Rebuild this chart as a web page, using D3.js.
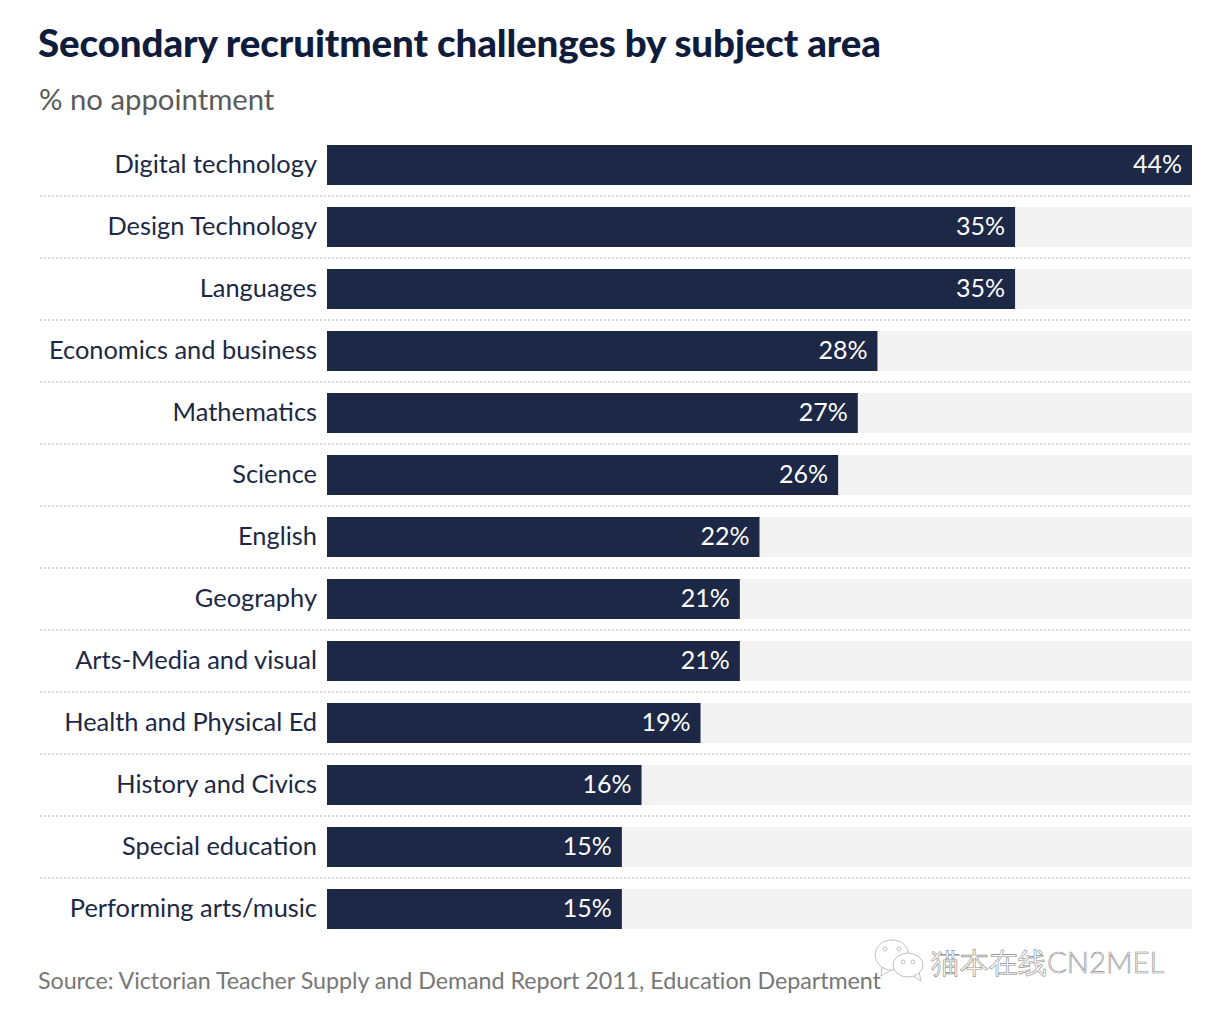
<!DOCTYPE html>
<html>
<head>
<meta charset="utf-8">
<script src="https://cdn.jsdelivr.net/npm/d3@7"></script>
<style>
  html, body { margin: 0; padding: 0; background: #fff; }
  svg { display: block; }
  text { font-family: Lato, "Noto Sans", sans-serif; }
</style>
</head>
<body>
<svg width="1206" height="1016"></svg>
<script>
const categories = ['Digital technology', 'Design Technology', 'Languages', 'Economics and business',
  'Mathematics', 'Science', 'English', 'Geography', 'Arts-Media and visual', 'Health and Physical Ed',
  'History and Civics', 'Special education', 'Performing arts/music'];
const values = [44, 35, 35, 28, 27, 26, 22, 21, 21, 19, 16, 15, 15];
const maxValue = 44;

const svg = d3.select('svg');

// x scale, bars start after the label column
const x = d3.scaleLinear().domain([0, maxValue]).range([327, 1192]);

// band scale, 40px bars on a 62px step
const y = d3.scaleBand().domain(categories).range([145, 929]).paddingInner(22 / 62).paddingOuter(0);

// title and subtitle
svg.append('text').attr('x', 38).attr('y', 57)
  .attr('font-size', 38.5).attr('font-weight', 900).attr('letter-spacing', -0.12).attr('fill', '#0f1c3c')
  .text('Secondary recruitment challenges by subject area');
svg.append('text').attr('x', 39).attr('y', 110)
  .attr('font-size', 29.3).attr('fill', '#5a5a5a')
  .text('% no appointment');

// grey track behind every bar
svg.selectAll('.track').data(categories).enter().append('rect')
  .attr('class', 'track')
  .attr('x', x(0))
  .attr('y', (d) => y(d))
  .attr('width', x(maxValue) - x(0))
  .attr('height', y.bandwidth())
  .attr('fill', '#f3f3f3');

// dotted separators, none under the last row
svg.selectAll('.sep').data(categories.slice(0, -1)).enter().append('line')
  .attr('class', 'sep')
  .attr('x1', 40)
  .attr('x2', x(maxValue))
  .attr('y1', (d) => y(d) + y.bandwidth() + 11)
  .attr('y2', (d) => y(d) + y.bandwidth() + 11)
  .attr('stroke', '#dadada')
  .attr('stroke-width', 2)
  .attr('stroke-dasharray', '2 2');

// bars
svg.selectAll('.bar').data(values).enter().append('rect')
  .attr('class', 'bar')
  .attr('x', x(0))
  .attr('y', (d, i) => y(categories[i]))
  .attr('width', (d) => x(d) - x(0))
  .attr('height', y.bandwidth())
  .attr('fill', '#1c2845');

// category labels
svg.selectAll('.label').data(categories).enter().append('text')
  .attr('class', 'label')
  .attr('x', x(0) - 10)
  .attr('y', (d) => y(d) + 28)
  .attr('text-anchor', 'end')
  .attr('font-size', 25.4)
  .attr('fill', '#1c2845')
  .text((d) => d);

// value labels inside the bars
svg.selectAll('.value').data(values).enter().append('text')
  .attr('class', 'value')
  .attr('x', (d) => x(d) - 10)
  .attr('y', (d, i) => y(categories[i]) + 28)
  .attr('text-anchor', 'end')
  .attr('font-size', 25)
  .attr('fill', '#fff')
  .text((d) => d + '%');

// source
svg.append('text').attr('x', 38).attr('y', 989)
  .attr('font-size', 23.3).attr('letter-spacing', -0.05).attr('fill', '#777')
  .text('Source: Victorian Teacher Supply and Demand Report 2011, Education Department');

// watermark
const mark = svg.append('g').attr('fill', '#fff').attr('stroke', '#b0b0b0').attr('stroke-width', 0.8);
mark.append('path').attr('d', 'M882 966 L881 976 L891 970');
mark.append('ellipse').attr('cx', 892).attr('cy', 955).attr('rx', 17).attr('ry', 15);
mark.append('path').attr('d', 'M912 975 L921 981 L919 972');
mark.append('ellipse').attr('cx', 908).attr('cy', 965).attr('rx', 15).attr('ry', 12);
[[885, 949], [899, 949], [903, 962], [913, 962]].forEach((p) => {
  mark.append('circle').attr('cx', p[0]).attr('cy', p[1]).attr('r', 2);
});
svg.append('text').attr('x', 931).attr('y', 973)
  .attr('font-size', 29.3)
  .attr('font-family', '"Noto Sans CJK SC"')
  .attr('font-weight', 300)
  .attr('fill', '#fff').attr('stroke', '#8a8a8a').attr('stroke-width', 0.6)
  .text('猫本在线CN2MEL');
</script>
</body>
</html>
